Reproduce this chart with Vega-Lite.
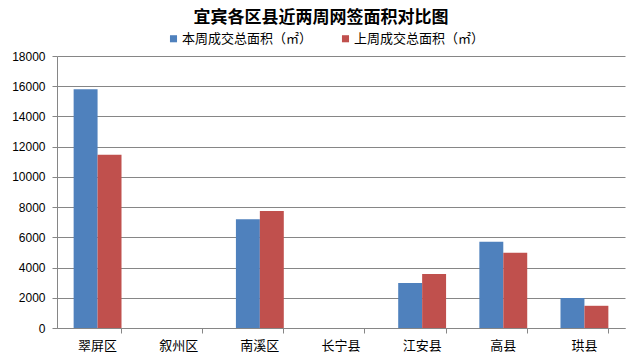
{
  "$schema": "https://vega.github.io/schema/vega-lite/v6.json",
  "width": 568,
  "height": 272,
  "autosize": "none",
  "padding": {"left": 57, "top": 56, "right": 15, "bottom": 32},
  "background": "white",
  "title": {
    "text": "宜宾各区县近两周网签面积对比图",
    "font": "Noto Sans CJK SC",
    "fontSize": 17,
    "fontWeight": "bold",
    "color": "#000000",
    "anchor": "middle",
    "dx": -20,
    "offset": 5
  },
  "data": {
    "values": [
      {"area": "翠屏区", "series": "本周成交总面积（㎡）", "value": 15800},
      {"area": "翠屏区", "series": "上周成交总面积（㎡）", "value": 11470},
      {"area": "叙州区", "series": "本周成交总面积（㎡）", "value": 0},
      {"area": "叙州区", "series": "上周成交总面积（㎡）", "value": 0},
      {"area": "南溪区", "series": "本周成交总面积（㎡）", "value": 7200},
      {"area": "南溪区", "series": "上周成交总面积（㎡）", "value": 7740},
      {"area": "长宁县", "series": "本周成交总面积（㎡）", "value": 0},
      {"area": "长宁县", "series": "上周成交总面积（㎡）", "value": 0},
      {"area": "江安县", "series": "本周成交总面积（㎡）", "value": 2970},
      {"area": "江安县", "series": "上周成交总面积（㎡）", "value": 3570},
      {"area": "高县", "series": "本周成交总面积（㎡）", "value": 5700},
      {"area": "高县", "series": "上周成交总面积（㎡）", "value": 4980},
      {"area": "珙县", "series": "本周成交总面积（㎡）", "value": 1980},
      {"area": "珙县", "series": "上周成交总面积（㎡）", "value": 1470}
    ]
  },
  "mark": {"type": "bar"},
  "encoding": {
    "x": {
      "field": "area",
      "type": "nominal",
      "sort": ["翠屏区", "叙州区", "南溪区", "长宁县", "江安县", "高县", "珙县"],
      "scale": {"paddingInner": 0.41, "paddingOuter": 0.205},
      "axis": {
        "title": null,
        "labelAngle": 0,
        "bandPosition": 1,
        "labelFont": "Noto Sans CJK SC",
        "labelFontSize": 13,
        "labelColor": "#000000",
        "labelPadding": 6,
        "tickSize": 5,
        "tickColor": "#868686",
        "domainColor": "#868686",
        "grid": false
      }
    },
    "xOffset": {
      "field": "series",
      "type": "nominal",
      "sort": ["本周成交总面积（㎡）", "上周成交总面积（㎡）"],
      "scale": {"paddingInner": 0, "paddingOuter": 0}
    },
    "y": {
      "field": "value",
      "type": "quantitative",
      "scale": {"domain": [0, 18000], "nice": false},
      "axis": {
        "title": null,
        "values": [0, 2000, 4000, 6000, 8000, 10000, 12000, 14000, 16000, 18000],
        "format": "d",
        "labelFont": "Liberation Sans",
        "labelFontSize": 12,
        "labelColor": "#000000",
        "labelPadding": 7,
        "tickSize": 5,
        "tickColor": "#868686",
        "domainColor": "#868686",
        "gridColor": "#868686",
        "gridOpacity": 1
      }
    },
    "color": {
      "field": "series",
      "type": "nominal",
      "sort": ["本周成交总面积（㎡）", "上周成交总面积（㎡）"],
      "scale": {"range": ["#4F81BD", "#C0504D"]},
      "legend": {
        "title": null,
        "orient": "none",
        "direction": "horizontal",
        "legendX": 110,
        "legendY": -24,
        "symbolType": "square",
        "symbolSize": 50,
        "symbolStrokeWidth": 0,
        "symbolOpacity": 1,
        "labelFont": "Noto Sans CJK SC",
        "labelFontSize": 13,
        "labelColor": "#000000",
        "labelOffset": 2,
        "labelLimit": 300,
        "columnPadding": 26
      }
    }
  },
  "config": {
    "view": {"stroke": null}
  }
}
